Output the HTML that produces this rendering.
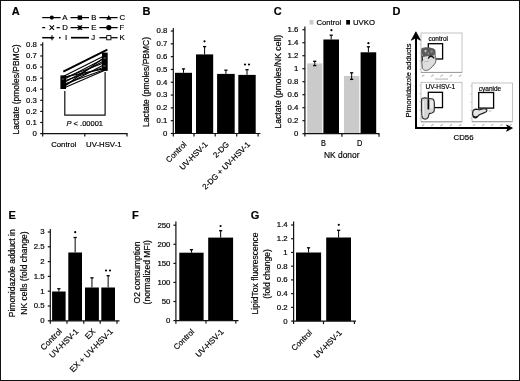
<!DOCTYPE html><html><head><meta charset="utf-8"><style>html,body{margin:0;padding:0;background:#fff;}svg{display:block;will-change:transform;font-family:"Liberation Sans",sans-serif;}text{stroke:#000;stroke-width:0.18px;}</style></head><body>
<svg width="520" height="381" viewBox="0 0 520 381">
<rect x="0" y="0" width="520" height="381" fill="#fff"/>
<text transform="translate(11.8,15.4)" font-size="11" font-weight="bold">A</text>
<text transform="translate(142.4,15.4)" font-size="11" font-weight="bold">B</text>
<text transform="translate(273.7,15.4)" font-size="11" font-weight="bold">C</text>
<text transform="translate(392.6,15.4)" font-size="11" font-weight="bold">D</text>
<text transform="translate(8.5,218.6)" font-size="11" font-weight="bold">E</text>
<text transform="translate(132.1,218.5)" font-size="11" font-weight="bold">F</text>
<text transform="translate(250.7,218.5)" font-size="11" font-weight="bold">G</text>
<line x1="42.7" y1="42.2" x2="42.7" y2="136.5" stroke="#111" stroke-width="1.2" />
<line x1="40.2" y1="133.6" x2="42.7" y2="133.6" stroke="#111" stroke-width="1.2" />
<text transform="translate(36.9,136)" font-size="7.8" text-anchor="end">0</text>
<line x1="40.2" y1="122.51" x2="42.7" y2="122.51" stroke="#111" stroke-width="1.2" />
<text transform="translate(36.9,124.91)" font-size="7.8" text-anchor="end">0.1</text>
<line x1="40.2" y1="111.42" x2="42.7" y2="111.42" stroke="#111" stroke-width="1.2" />
<text transform="translate(36.9,113.82)" font-size="7.8" text-anchor="end">0.2</text>
<line x1="40.2" y1="100.33" x2="42.7" y2="100.33" stroke="#111" stroke-width="1.2" />
<text transform="translate(36.9,102.73)" font-size="7.8" text-anchor="end">0.3</text>
<line x1="40.2" y1="89.24" x2="42.7" y2="89.24" stroke="#111" stroke-width="1.2" />
<text transform="translate(36.9,91.64)" font-size="7.8" text-anchor="end">0.4</text>
<line x1="40.2" y1="78.15" x2="42.7" y2="78.15" stroke="#111" stroke-width="1.2" />
<text transform="translate(36.9,80.55)" font-size="7.8" text-anchor="end">0.5</text>
<line x1="40.2" y1="67.06" x2="42.7" y2="67.06" stroke="#111" stroke-width="1.2" />
<text transform="translate(36.9,69.46)" font-size="7.8" text-anchor="end">0.6</text>
<line x1="40.2" y1="55.97" x2="42.7" y2="55.97" stroke="#111" stroke-width="1.2" />
<text transform="translate(36.9,58.37)" font-size="7.8" text-anchor="end">0.7</text>
<line x1="40.2" y1="44.88" x2="42.7" y2="44.88" stroke="#111" stroke-width="1.2" />
<text transform="translate(36.9,47.28)" font-size="7.8" text-anchor="end">0.8</text>
<line x1="42.7" y1="133.6" x2="127.6" y2="133.6" stroke="#111" stroke-width="1.2" />
<line x1="84.8" y1="133.6" x2="84.8" y2="136.6" stroke="#111" stroke-width="1.2" />
<line x1="127" y1="133.6" x2="127" y2="136.6" stroke="#111" stroke-width="1.2" />
<text transform="translate(63.7,146.8)" font-size="7.8" text-anchor="middle">Control</text>
<text transform="translate(103.8,146.8)" font-size="7.8" text-anchor="middle">UV-HSV-1</text>
<text transform="translate(18.8,89.4) scale(1.08,1) rotate(-90)" font-size="8.5" text-anchor="middle">Lactate (pmoles/PBMC)</text>
<line x1="42.2" y1="17.6" x2="60.6" y2="17.6" stroke="#000" stroke-width="1.25" />
<circle cx="51.8" cy="17.6" r="2.09" fill="#000"/>
<text transform="translate(62.3,19.6)" font-size="7.8">A</text>
<line x1="70.5" y1="17.6" x2="89" y2="17.6" stroke="#000" stroke-width="1.25" />
<rect x="77.7" y="15.4" width="4.4" height="4.4" fill="#000" />
<text transform="translate(91.2,19.6)" font-size="7.8">B</text>
<line x1="99.4" y1="17.6" x2="117.6" y2="17.6" stroke="#000" stroke-width="1.25" />
<path d="M108.8 15L111.4 19.8L106.2 19.8Z" fill="#000"/>
<text transform="translate(119.5,19.6)" font-size="7.8">C</text>
<line x1="42.2" y1="27.6" x2="45.2" y2="27.6" stroke="#000" stroke-width="1.25" />
<line x1="56.6" y1="27.6" x2="59.8" y2="27.6" stroke="#000" stroke-width="1.25" />
<path d="M49.6 25.4L54 29.8M54 25.4L49.6 29.8" stroke="#000" stroke-width="1.1" fill="none"/>
<text transform="translate(62.3,29.6)" font-size="7.8">D</text>
<line x1="70.5" y1="27.6" x2="89" y2="27.6" stroke="#000" stroke-width="1.25" />
<path d="M77.7 25.4L82.1 29.8M82.1 25.4L77.7 29.8M79.9 25.4L79.9 29.8" stroke="#000" stroke-width="1.2" fill="none"/>
<text transform="translate(91.2,29.6)" font-size="7.8">E</text>
<line x1="99.4" y1="27.6" x2="117.6" y2="27.6" stroke="#000" stroke-width="1.25" />
<circle cx="108.8" cy="27.6" r="2.64" fill="#000"/>
<text transform="translate(119.5,29.6)" font-size="7.8">F</text>
<line x1="42.2" y1="37.7" x2="53.8" y2="37.7" stroke="#000" stroke-width="1.5" />
<rect x="59" y="36.9" width="1.6" height="1.6" fill="#000" />
<path d="M52 35.2L52 40.2M49.8 37.7L54.2 37.7" stroke="#000" stroke-width="1.1" fill="none"/>
<text transform="translate(64.9,39.7)" font-size="7.8">I</text>
<line x1="71" y1="37.7" x2="89" y2="37.7" stroke="#000" stroke-width="1.7" />
<text transform="translate(91.2,39.7)" font-size="7.8">J</text>
<line x1="99.4" y1="37.7" x2="117.6" y2="37.7" stroke="#000" stroke-width="1.25" />
<rect x="106.7" y="35.6" width="4.2" height="4.2" fill="#fff" stroke="#000" stroke-width="0.9"/>
<text transform="translate(119.5,39.7)" font-size="7.8">K</text>
<line x1="63.3" y1="71.6" x2="107.4" y2="49.6" stroke="#000" stroke-width="1.9" />
<line x1="63.2" y1="76.5" x2="104.9" y2="55.5" stroke="#000" stroke-width="1.1" />
<line x1="63.2" y1="78.2" x2="104.9" y2="62.5" stroke="#000" stroke-width="1.1" />
<line x1="63.2" y1="79.8" x2="104.9" y2="58.2" stroke="#000" stroke-width="1.1" />
<line x1="63.2" y1="81.2" x2="104.9" y2="67" stroke="#000" stroke-width="1.1" />
<line x1="63.2" y1="83" x2="104.9" y2="60.2" stroke="#000" stroke-width="1.1" />
<line x1="63.2" y1="84.6" x2="104.9" y2="69.5" stroke="#000" stroke-width="1.1" />
<line x1="63.2" y1="86.2" x2="104.9" y2="64.2" stroke="#000" stroke-width="1.1" />
<line x1="63.2" y1="88.2" x2="104.9" y2="70.2" stroke="#000" stroke-width="1.1" />
<line x1="63.2" y1="87.2" x2="104.9" y2="57" stroke="#000" stroke-width="1.1" />
<line x1="63.2" y1="77.2" x2="104.9" y2="68.6" stroke="#000" stroke-width="1.1" />
<rect x="60.4" y="75.4" width="5.6" height="13.6" fill="#000" />
<rect x="102" y="52.6" width="5.7" height="18.3" fill="#000" />
<rect x="61.8" y="78.5" width="2" height="1.2" fill="#555"/>
<rect x="103.5" y="57.5" width="2.5" height="1.2" fill="#666"/>
<rect x="103.2" y="65.5" width="2.5" height="1" fill="#777"/>
<path d="M64.8 91 L64.8 115.2 L105.1 115.2 L105.1 72" fill="none" stroke="#111" stroke-width="1.2"/>
<text transform="translate(66.5,126.4)" font-size="7.5"><tspan font-style="italic">P</tspan> &lt; .00001</text>
<line x1="173.3" y1="27.9" x2="173.3" y2="136.5" stroke="#111" stroke-width="1.2" />
<line x1="170.8" y1="133.5" x2="173.3" y2="133.5" stroke="#111" stroke-width="1.2" />
<text transform="translate(167.4,135.9)" font-size="7.8" text-anchor="end">0</text>
<line x1="170.8" y1="120.69" x2="173.3" y2="120.69" stroke="#111" stroke-width="1.2" />
<text transform="translate(167.4,123.09)" font-size="7.8" text-anchor="end">0.1</text>
<line x1="170.8" y1="107.88" x2="173.3" y2="107.88" stroke="#111" stroke-width="1.2" />
<text transform="translate(167.4,110.28)" font-size="7.8" text-anchor="end">0.2</text>
<line x1="170.8" y1="95.07" x2="173.3" y2="95.07" stroke="#111" stroke-width="1.2" />
<text transform="translate(167.4,97.47)" font-size="7.8" text-anchor="end">0.3</text>
<line x1="170.8" y1="82.26" x2="173.3" y2="82.26" stroke="#111" stroke-width="1.2" />
<text transform="translate(167.4,84.66)" font-size="7.8" text-anchor="end">0.4</text>
<line x1="170.8" y1="69.45" x2="173.3" y2="69.45" stroke="#111" stroke-width="1.2" />
<text transform="translate(167.4,71.85)" font-size="7.8" text-anchor="end">0.5</text>
<line x1="170.8" y1="56.64" x2="173.3" y2="56.64" stroke="#111" stroke-width="1.2" />
<text transform="translate(167.4,59.04)" font-size="7.8" text-anchor="end">0.6</text>
<line x1="170.8" y1="43.83" x2="173.3" y2="43.83" stroke="#111" stroke-width="1.2" />
<text transform="translate(167.4,46.23)" font-size="7.8" text-anchor="end">0.7</text>
<line x1="170.8" y1="31.02" x2="173.3" y2="31.02" stroke="#111" stroke-width="1.2" />
<text transform="translate(167.4,33.42)" font-size="7.8" text-anchor="end">0.8</text>
<text transform="translate(148.5,82) scale(1.1,1) rotate(-90)" font-size="8.5" text-anchor="middle">Lactate (pmoles/PBMC)</text>
<rect x="175" y="72.8" width="17" height="60.7" fill="#000" />
<line x1="183.5" y1="68.9" x2="183.5" y2="72.8" stroke="#000" stroke-width="1" />
<line x1="181.9" y1="68.9" x2="185.1" y2="68.9" stroke="#000" stroke-width="1.3" />
<rect x="196" y="54.4" width="17.2" height="79.1" fill="#000" />
<line x1="204.6" y1="46.6" x2="204.6" y2="54.4" stroke="#000" stroke-width="1" />
<line x1="203" y1="46.6" x2="206.2" y2="46.6" stroke="#000" stroke-width="1.3" />
<rect x="217.1" y="73.9" width="17.6" height="59.6" fill="#000" />
<line x1="225.9" y1="70.2" x2="225.9" y2="73.9" stroke="#000" stroke-width="1" />
<line x1="224.3" y1="70.2" x2="227.5" y2="70.2" stroke="#000" stroke-width="1.3" />
<rect x="238.3" y="74.9" width="17.4" height="58.6" fill="#000" />
<line x1="247" y1="69.7" x2="247" y2="74.9" stroke="#000" stroke-width="1" />
<line x1="245.4" y1="69.7" x2="248.6" y2="69.7" stroke="#000" stroke-width="1.3" />
<line x1="173.3" y1="133.5" x2="260.4" y2="133.5" stroke="#111" stroke-width="1.2" />
<line x1="194" y1="133.5" x2="194" y2="136.5" stroke="#111" stroke-width="1.2" />
<line x1="215.2" y1="133.5" x2="215.2" y2="136.5" stroke="#111" stroke-width="1.2" />
<line x1="236.7" y1="133.5" x2="236.7" y2="136.5" stroke="#111" stroke-width="1.2" />
<line x1="258.1" y1="133.5" x2="258.1" y2="136.5" stroke="#111" stroke-width="1.2" />
<circle cx="204.5" cy="41.3" r="1.1" fill="#000"/>
<circle cx="245" cy="64.5" r="1.1" fill="#000"/>
<circle cx="249" cy="64.5" r="1.1" fill="#000"/>
<text transform="translate(187.1,145) rotate(-45)" font-size="7.9" text-anchor="end">Control</text>
<text transform="translate(208.2,145) rotate(-45)" font-size="7.9" text-anchor="end">UV-HSV-1</text>
<text transform="translate(229.5,145) rotate(-45)" font-size="7.9" text-anchor="end">2-DG</text>
<text transform="translate(250.6,145) rotate(-45)" font-size="7.9" text-anchor="end">2-DG + UV-HSV-1</text>
<line x1="304.9" y1="26.5" x2="304.9" y2="136.5" stroke="#111" stroke-width="1.2" />
<line x1="302.4" y1="133.7" x2="304.9" y2="133.7" stroke="#111" stroke-width="1.2" />
<text transform="translate(298.4,136.1)" font-size="7.8" text-anchor="end">0</text>
<line x1="302.4" y1="120.7" x2="304.9" y2="120.7" stroke="#111" stroke-width="1.2" />
<text transform="translate(298.4,123.1)" font-size="7.8" text-anchor="end">0.2</text>
<line x1="302.4" y1="107.7" x2="304.9" y2="107.7" stroke="#111" stroke-width="1.2" />
<text transform="translate(298.4,110.1)" font-size="7.8" text-anchor="end">0.4</text>
<line x1="302.4" y1="94.7" x2="304.9" y2="94.7" stroke="#111" stroke-width="1.2" />
<text transform="translate(298.4,97.1)" font-size="7.8" text-anchor="end">0.6</text>
<line x1="302.4" y1="81.7" x2="304.9" y2="81.7" stroke="#111" stroke-width="1.2" />
<text transform="translate(298.4,84.1)" font-size="7.8" text-anchor="end">0.8</text>
<line x1="302.4" y1="68.7" x2="304.9" y2="68.7" stroke="#111" stroke-width="1.2" />
<text transform="translate(298.4,71.1)" font-size="7.8" text-anchor="end">1</text>
<line x1="302.4" y1="55.7" x2="304.9" y2="55.7" stroke="#111" stroke-width="1.2" />
<text transform="translate(298.4,58.1)" font-size="7.8" text-anchor="end">1.2</text>
<line x1="302.4" y1="42.7" x2="304.9" y2="42.7" stroke="#111" stroke-width="1.2" />
<text transform="translate(298.4,45.1)" font-size="7.8" text-anchor="end">1.4</text>
<line x1="302.4" y1="29.7" x2="304.9" y2="29.7" stroke="#111" stroke-width="1.2" />
<text transform="translate(298.4,32.1)" font-size="7.8" text-anchor="end">1.6</text>
<text transform="translate(281.4,81.7) scale(1.1,1) rotate(-90)" font-size="8.6" text-anchor="middle">Lactate (pmoles/NK cell)</text>
<rect x="309.5" y="20" width="4" height="4.6" fill="#cacaca" />
<text transform="translate(316.5,25.1) scale(0.95,1)" font-size="8.1">Control</text>
<rect x="346.2" y="20" width="3.8" height="4.6" fill="#000" />
<text transform="translate(353,25.1) scale(0.96,1)" font-size="8.1">UVKO</text>
<rect x="307.2" y="63.4" width="15.1" height="70.3" fill="#cacaca" />
<rect x="323.4" y="39.5" width="15.6" height="94.2" fill="#000" />
<rect x="344" y="75.9" width="15.3" height="57.8" fill="#cacaca" />
<rect x="360.6" y="52.3" width="15.6" height="81.4" fill="#000" />
<line x1="314.75" y1="61.3" x2="314.75" y2="63.4" stroke="#000" stroke-width="1" />
<line x1="313.15" y1="61.3" x2="316.35" y2="61.3" stroke="#000" stroke-width="1.3" />
<line x1="314.75" y1="63.4" x2="314.75" y2="65.6" stroke="#000" stroke-width="1" />
<line x1="313.15" y1="65.6" x2="316.35" y2="65.6" stroke="#000" stroke-width="1.3" />
<line x1="331.2" y1="35.2" x2="331.2" y2="39.5" stroke="#000" stroke-width="1" />
<line x1="329.6" y1="35.2" x2="332.8" y2="35.2" stroke="#000" stroke-width="1.3" />
<line x1="351.65" y1="72.8" x2="351.65" y2="75.9" stroke="#000" stroke-width="1" />
<line x1="350.05" y1="72.8" x2="353.25" y2="72.8" stroke="#000" stroke-width="1.3" />
<line x1="351.65" y1="75.9" x2="351.65" y2="79.4" stroke="#000" stroke-width="1" />
<line x1="350.05" y1="79.4" x2="353.25" y2="79.4" stroke="#000" stroke-width="1.3" />
<line x1="368.4" y1="46.8" x2="368.4" y2="52.3" stroke="#000" stroke-width="1" />
<line x1="366.8" y1="46.8" x2="370" y2="46.8" stroke="#000" stroke-width="1.3" />
<circle cx="331.4" cy="30.2" r="1.1" fill="#000"/>
<circle cx="368.4" cy="43.2" r="1.1" fill="#000"/>
<line x1="304.9" y1="133.7" x2="379.5" y2="133.7" stroke="#111" stroke-width="1.2" />
<line x1="341.9" y1="133.7" x2="341.9" y2="136.7" stroke="#111" stroke-width="1.2" />
<line x1="379" y1="133.7" x2="379" y2="136.7" stroke="#111" stroke-width="1.2" />
<text transform="translate(323.4,146.2) scale(0.9,1)" font-size="8.2" text-anchor="middle">B</text>
<text transform="translate(359.7,146.2) scale(0.9,1)" font-size="8.2" text-anchor="middle">D</text>
<text transform="translate(341.7,158.1) scale(0.85,1)" font-size="9.9" text-anchor="middle">NK donor</text>
<text transform="translate(410.5,80.5) rotate(-90)" font-size="7.55" text-anchor="middle">Pimonidazole adducts</text>
<rect x="421" y="33" width="41" height="39.4" fill="none" stroke="#b4b4b4" stroke-width="0.8"/>
<line x1="421" y1="72.4" x2="462" y2="72.4" stroke="#9a9a9a" stroke-width="1" />
<path d="M421.9 76.6 L424.3 74.8" stroke="#b8b8b8" stroke-width="1.1"/>
<path d="M431.15 76.6 L433.55 74.8" stroke="#b8b8b8" stroke-width="1.1"/>
<path d="M440.4 76.6 L442.8 74.8" stroke="#b8b8b8" stroke-width="1.1"/>
<path d="M449.65 76.6 L452.05 74.8" stroke="#b8b8b8" stroke-width="1.1"/>
<path d="M458.9 76.6 L461.3 74.8" stroke="#b8b8b8" stroke-width="1.1"/>
<line x1="419.4" y1="69.4" x2="421" y2="69.4" stroke="#c4c4c4" stroke-width="0.9" />
<line x1="419.4" y1="61.05" x2="421" y2="61.05" stroke="#c4c4c4" stroke-width="0.9" />
<line x1="419.4" y1="52.7" x2="421" y2="52.7" stroke="#c4c4c4" stroke-width="0.9" />
<line x1="419.4" y1="44.35" x2="421" y2="44.35" stroke="#c4c4c4" stroke-width="0.9" />
<line x1="419.4" y1="36" x2="421" y2="36" stroke="#c4c4c4" stroke-width="0.9" />
<rect x="435" y="78.4" width="13" height="1.4" fill="#c8c8c8"/>
<rect x="421" y="82.3" width="41" height="39.5" fill="none" stroke="#b4b4b4" stroke-width="0.8"/>
<line x1="421" y1="121.8" x2="462" y2="121.8" stroke="#9a9a9a" stroke-width="1" />
<path d="M421.9 126 L424.3 124.2" stroke="#b8b8b8" stroke-width="1.1"/>
<path d="M431.15 126 L433.55 124.2" stroke="#b8b8b8" stroke-width="1.1"/>
<path d="M440.4 126 L442.8 124.2" stroke="#b8b8b8" stroke-width="1.1"/>
<path d="M449.65 126 L452.05 124.2" stroke="#b8b8b8" stroke-width="1.1"/>
<path d="M458.9 126 L461.3 124.2" stroke="#b8b8b8" stroke-width="1.1"/>
<line x1="419.4" y1="118.8" x2="421" y2="118.8" stroke="#c4c4c4" stroke-width="0.9" />
<line x1="419.4" y1="110.42" x2="421" y2="110.42" stroke="#c4c4c4" stroke-width="0.9" />
<line x1="419.4" y1="102.05" x2="421" y2="102.05" stroke="#c4c4c4" stroke-width="0.9" />
<line x1="419.4" y1="93.67" x2="421" y2="93.67" stroke="#c4c4c4" stroke-width="0.9" />
<line x1="419.4" y1="85.3" x2="421" y2="85.3" stroke="#c4c4c4" stroke-width="0.9" />
<rect x="435" y="127.8" width="13" height="1.4" fill="#c8c8c8"/>
<rect x="472" y="83" width="40.4" height="38.7" fill="none" stroke="#b4b4b4" stroke-width="0.8"/>
<line x1="472" y1="121.7" x2="512.4" y2="121.7" stroke="#9a9a9a" stroke-width="1" />
<path d="M472.9 125.9 L475.3 124.1" stroke="#b8b8b8" stroke-width="1.1"/>
<path d="M482 125.9 L484.4 124.1" stroke="#b8b8b8" stroke-width="1.1"/>
<path d="M491.1 125.9 L493.5 124.1" stroke="#b8b8b8" stroke-width="1.1"/>
<path d="M500.2 125.9 L502.6 124.1" stroke="#b8b8b8" stroke-width="1.1"/>
<path d="M509.3 125.9 L511.7 124.1" stroke="#b8b8b8" stroke-width="1.1"/>
<line x1="470.4" y1="118.7" x2="472" y2="118.7" stroke="#c4c4c4" stroke-width="0.9" />
<line x1="470.4" y1="110.53" x2="472" y2="110.53" stroke="#c4c4c4" stroke-width="0.9" />
<line x1="470.4" y1="102.35" x2="472" y2="102.35" stroke="#c4c4c4" stroke-width="0.9" />
<line x1="470.4" y1="94.17" x2="472" y2="94.17" stroke="#c4c4c4" stroke-width="0.9" />
<line x1="470.4" y1="86" x2="472" y2="86" stroke="#c4c4c4" stroke-width="0.9" />
<rect x="485.7" y="127.7" width="13" height="1.4" fill="#c8c8c8"/>
<rect x="428.3" y="43.7" width="14.3" height="15.3" fill="none" stroke="#000" stroke-width="1.3"/>
<rect x="428.3" y="92.3" width="14.2" height="15.3" fill="none" stroke="#000" stroke-width="1.3"/>
<rect x="478.7" y="92.5" width="14.9" height="15.6" fill="none" stroke="#000" stroke-width="1.3"/>
<text transform="translate(428.5,40.9)" font-size="6.5">control</text>
<text transform="translate(425.5,89.4)" font-size="6.5">UV-HSV-1</text>
<text transform="translate(478.8,90.6)" font-size="6.5">cyanide</text>
<path d="M421.8 48.6 C421.5 55 421.6 63 422.4 68.3 C423.4 70.8 427 71 429.5 69.2 C431.5 67.3 433.8 65.6 435.2 63.2 C436.2 61 436 58 435.2 56 L434.9 50.5 C433 47.6 425 47.2 421.8 48.6 Z" fill="#dedede" stroke="#505050" stroke-width="0.9"/>
<path d="M421.7 49.2 C423 47.4 433 47.2 434.8 49.5 C435.6 51.5 435.2 54.6 433.6 55.6 C431 56.6 427 55.6 424.5 56.8 C422.6 57.8 421.8 54 421.7 49.2 Z" fill="#5a5a5a"/>
<ellipse cx="425.5" cy="51.1" rx="1.1" ry="1.4" fill="#c4c4c4"/>
<ellipse cx="431.6" cy="51.6" rx="1.2" ry="1.5" fill="#8c8c8c"/>
<ellipse cx="428.4" cy="53.6" rx="0.8" ry="1.0" fill="#999"/>
<path d="M422.3 56 L422.6 61" stroke="#333" stroke-width="1.0"/>
<path d="M428.3 58.6 C429 55.6 432.6 55.4 434.2 58.4" fill="none" stroke="#111" stroke-width="1.3"/>
<path d="M424 62 C426 61 428 62 429.5 60.5" fill="none" stroke="#aaa" stroke-width="0.7"/>
<path d="M421.6 99.5 C421.6 98.3 423 97.8 425 97.9 L427.5 98.3 C429 98.6 431 98.3 432.8 99 C434.2 99.8 434.5 102 434.4 105 L434.3 110 C434.2 112.3 432.5 113.3 430 113.4 L429.2 113.6 C428.7 115.5 428.6 117.5 427.1 118.5 C425.5 119.5 423 119.3 422.2 117.5 C421.6 113 421.5 104 421.6 99.5 Z" fill="#d6d6d6" stroke="#2a2a2a" stroke-width="1.1"/>
<rect x="429.9" y="100.6" width="3.1" height="7.6" fill="#ececec"/>
<path d="M428.4 99.2 L428.4 109.4" stroke="#000" stroke-width="1.7"/>
<path d="M423.3 101 L423.3 116" stroke="#eee" stroke-width="1.2"/>
<path d="M472.7 112.2 C472.8 110.3 474.5 109.2 476.5 109.1 C477.8 109.1 478.4 110 479.5 109.8 C481.5 109.2 484 108.4 485.8 108.9 C487.3 109.4 487.2 111.2 485.8 112.1 C484 113.2 481 113.6 479 115 C477.6 116.2 477.2 117.6 475.6 117.9 C474 118 472.9 116.6 472.7 114.5 Z" fill="#e4e4e4" stroke="#1a1a1a" stroke-width="1.2"/>
<path d="M473.6 116 C474.5 117.4 476 117.6 477 116.5" fill="none" stroke="#000" stroke-width="1.3"/>
<ellipse cx="490" cy="111" rx="1.6" ry="1.0" fill="#d8d8d8"/>
<line x1="416" y1="37.5" x2="416" y2="129" stroke="#000" stroke-width="2" />
<line x1="415" y1="128.1" x2="508" y2="128.1" stroke="#000" stroke-width="2" />
<path d="M415.9 31.8 L420.4 40.2 L415.9 37.8 L411.4 40.2 Z" fill="#000" stroke="#000" stroke-width="0.8" stroke-linejoin="round"/>
<path d="M512.4 128.1 L506.6 131.2 L508.2 128.1 L506.6 125.0 Z" fill="#000" stroke="#000" stroke-width="0.8" stroke-linejoin="round"/>
<text transform="translate(453.6,139.8) scale(1.04,1)" font-size="7.5">CD56</text>
<line x1="50.3" y1="228.9" x2="50.3" y2="323.8" stroke="#111" stroke-width="1.2" />
<line x1="47.8" y1="320.8" x2="50.3" y2="320.8" stroke="#111" stroke-width="1.2" />
<text transform="translate(44.6,323.2)" font-size="7.8" text-anchor="end">0</text>
<line x1="47.8" y1="306" x2="50.3" y2="306" stroke="#111" stroke-width="1.2" />
<text transform="translate(44.6,308.4)" font-size="7.8" text-anchor="end">0.5</text>
<line x1="47.8" y1="291.2" x2="50.3" y2="291.2" stroke="#111" stroke-width="1.2" />
<text transform="translate(44.6,293.6)" font-size="7.8" text-anchor="end">1</text>
<line x1="47.8" y1="276.4" x2="50.3" y2="276.4" stroke="#111" stroke-width="1.2" />
<text transform="translate(44.6,278.8)" font-size="7.8" text-anchor="end">1.5</text>
<line x1="47.8" y1="261.6" x2="50.3" y2="261.6" stroke="#111" stroke-width="1.2" />
<text transform="translate(44.6,264)" font-size="7.8" text-anchor="end">2</text>
<line x1="47.8" y1="246.8" x2="50.3" y2="246.8" stroke="#111" stroke-width="1.2" />
<text transform="translate(44.6,249.2)" font-size="7.8" text-anchor="end">2.5</text>
<line x1="47.8" y1="232" x2="50.3" y2="232" stroke="#111" stroke-width="1.2" />
<text transform="translate(44.6,234.4)" font-size="7.8" text-anchor="end">3</text>
<text transform="translate(14.7,273.3) rotate(-90)" font-size="8.5" text-anchor="middle">Pimonidazole adduct in</text>
<text transform="translate(26.5,273.1) rotate(-90)" font-size="8.5" text-anchor="middle">NK cells (fold change)</text>
<rect x="52.1" y="291.5" width="13.5" height="29.3" fill="#000" />
<line x1="58.85" y1="288.7" x2="58.85" y2="291.5" stroke="#000" stroke-width="1" />
<line x1="57.25" y1="288.7" x2="60.45" y2="288.7" stroke="#000" stroke-width="1.3" />
<rect x="68.3" y="252.5" width="13.7" height="68.3" fill="#000" />
<line x1="75.15" y1="237.5" x2="75.15" y2="252.5" stroke="#000" stroke-width="1" />
<line x1="73.55" y1="237.5" x2="76.75" y2="237.5" stroke="#000" stroke-width="1.3" />
<rect x="85" y="287.5" width="13.9" height="33.3" fill="#000" />
<line x1="91.95" y1="277.8" x2="91.95" y2="287.5" stroke="#000" stroke-width="1" />
<line x1="90.35" y1="277.8" x2="93.55" y2="277.8" stroke="#000" stroke-width="1.3" />
<rect x="101.3" y="287.5" width="13.7" height="33.3" fill="#000" />
<line x1="108.15" y1="275.7" x2="108.15" y2="287.5" stroke="#000" stroke-width="1" />
<line x1="106.55" y1="275.7" x2="109.75" y2="275.7" stroke="#000" stroke-width="1.3" />
<line x1="50.3" y1="320.8" x2="119.5" y2="320.8" stroke="#111" stroke-width="1.2" />
<line x1="67" y1="320.8" x2="67" y2="323.8" stroke="#111" stroke-width="1.2" />
<line x1="83.8" y1="320.8" x2="83.8" y2="323.8" stroke="#111" stroke-width="1.2" />
<line x1="100.2" y1="320.8" x2="100.2" y2="323.8" stroke="#111" stroke-width="1.2" />
<line x1="117" y1="320.8" x2="117" y2="323.8" stroke="#111" stroke-width="1.2" />
<circle cx="75.2" cy="232.2" r="1.1" fill="#000"/>
<circle cx="106" cy="270.5" r="1.1" fill="#000"/>
<circle cx="110" cy="270.5" r="1.1" fill="#000"/>
<text transform="translate(62.4,332) rotate(-45)" font-size="8.2" text-anchor="end">Control</text>
<text transform="translate(79,332) rotate(-45)" font-size="8.2" text-anchor="end">UV-HSV-1</text>
<text transform="translate(95.9,332) rotate(-45)" font-size="8.2" text-anchor="end">EX</text>
<text transform="translate(113.6,332) rotate(-45)" font-size="8.2" text-anchor="end">EX + UV-HSV-1</text>
<line x1="175.9" y1="221.6" x2="175.9" y2="323.8" stroke="#111" stroke-width="1.2" />
<line x1="173.4" y1="320.6" x2="175.9" y2="320.6" stroke="#111" stroke-width="1.2" />
<text transform="translate(170.4,323)" font-size="7.8" text-anchor="end">0</text>
<line x1="173.4" y1="301.52" x2="175.9" y2="301.52" stroke="#111" stroke-width="1.2" />
<text transform="translate(170.4,303.92)" font-size="7.8" text-anchor="end">50</text>
<line x1="173.4" y1="282.44" x2="175.9" y2="282.44" stroke="#111" stroke-width="1.2" />
<text transform="translate(170.4,284.84)" font-size="7.8" text-anchor="end">100</text>
<line x1="173.4" y1="263.36" x2="175.9" y2="263.36" stroke="#111" stroke-width="1.2" />
<text transform="translate(170.4,265.76)" font-size="7.8" text-anchor="end">150</text>
<line x1="173.4" y1="244.28" x2="175.9" y2="244.28" stroke="#111" stroke-width="1.2" />
<text transform="translate(170.4,246.68)" font-size="7.8" text-anchor="end">200</text>
<line x1="173.4" y1="225.2" x2="175.9" y2="225.2" stroke="#111" stroke-width="1.2" />
<text transform="translate(170.4,227.6)" font-size="7.8" text-anchor="end">250</text>
<text transform="translate(139.8,272.5) rotate(-90)" font-size="8.5" text-anchor="middle">O2 consumption</text>
<text transform="translate(150.3,272.3) rotate(-90)" font-size="8.5" text-anchor="middle">(normalized MFI)</text>
<rect x="179.3" y="252.7" width="24.3" height="67.9" fill="#000" />
<line x1="191.45" y1="249.7" x2="191.45" y2="252.7" stroke="#000" stroke-width="1" />
<line x1="189.85" y1="249.7" x2="193.05" y2="249.7" stroke="#000" stroke-width="1.3" />
<rect x="208.2" y="237.6" width="24.9" height="83" fill="#000" />
<line x1="220.65" y1="230.7" x2="220.65" y2="237.6" stroke="#000" stroke-width="1" />
<line x1="219.05" y1="230.7" x2="222.25" y2="230.7" stroke="#000" stroke-width="1.3" />
<line x1="175.9" y1="320.6" x2="238.5" y2="320.6" stroke="#111" stroke-width="1.2" />
<line x1="206" y1="320.6" x2="206" y2="323.6" stroke="#111" stroke-width="1.2" />
<line x1="235.8" y1="320.6" x2="235.8" y2="323.6" stroke="#111" stroke-width="1.2" />
<circle cx="220.6" cy="226" r="1.1" fill="#000"/>
<text transform="translate(194.8,332.3) rotate(-45)" font-size="7.9" text-anchor="end">Control</text>
<text transform="translate(224.2,332.3) rotate(-45)" font-size="7.9" text-anchor="end">UV-HSV-1</text>
<line x1="293.6" y1="221.6" x2="293.6" y2="324" stroke="#111" stroke-width="1.2" />
<line x1="291.1" y1="321.1" x2="293.6" y2="321.1" stroke="#111" stroke-width="1.2" />
<text transform="translate(287.7,323.5)" font-size="7.8" text-anchor="end">0</text>
<line x1="291.1" y1="307.37" x2="293.6" y2="307.37" stroke="#111" stroke-width="1.2" />
<text transform="translate(287.7,309.77)" font-size="7.8" text-anchor="end">0.2</text>
<line x1="291.1" y1="293.64" x2="293.6" y2="293.64" stroke="#111" stroke-width="1.2" />
<text transform="translate(287.7,296.04)" font-size="7.8" text-anchor="end">0.4</text>
<line x1="291.1" y1="279.91" x2="293.6" y2="279.91" stroke="#111" stroke-width="1.2" />
<text transform="translate(287.7,282.31)" font-size="7.8" text-anchor="end">0.6</text>
<line x1="291.1" y1="266.18" x2="293.6" y2="266.18" stroke="#111" stroke-width="1.2" />
<text transform="translate(287.7,268.58)" font-size="7.8" text-anchor="end">0.8</text>
<line x1="291.1" y1="252.45" x2="293.6" y2="252.45" stroke="#111" stroke-width="1.2" />
<text transform="translate(287.7,254.85)" font-size="7.8" text-anchor="end">1</text>
<line x1="291.1" y1="238.72" x2="293.6" y2="238.72" stroke="#111" stroke-width="1.2" />
<text transform="translate(287.7,241.12)" font-size="7.8" text-anchor="end">1.2</text>
<line x1="291.1" y1="224.99" x2="293.6" y2="224.99" stroke="#111" stroke-width="1.2" />
<text transform="translate(287.7,227.39)" font-size="7.8" text-anchor="end">1.4</text>
<text transform="translate(258,273.5) rotate(-90)" font-size="8.5" text-anchor="middle">LipidTox fluorescence</text>
<text transform="translate(269.5,274) rotate(-90)" font-size="8.5" text-anchor="middle">(fold change)</text>
<rect x="296" y="252.5" width="25.1" height="68.6" fill="#000" />
<line x1="308.55" y1="247.8" x2="308.55" y2="252.5" stroke="#000" stroke-width="1" />
<line x1="306.95" y1="247.8" x2="310.15" y2="247.8" stroke="#000" stroke-width="1.3" />
<rect x="326.2" y="237.5" width="24.8" height="83.6" fill="#000" />
<line x1="338.6" y1="230.3" x2="338.6" y2="237.5" stroke="#000" stroke-width="1" />
<line x1="337" y1="230.3" x2="340.2" y2="230.3" stroke="#000" stroke-width="1.3" />
<line x1="293.6" y1="321.1" x2="356" y2="321.1" stroke="#111" stroke-width="1.2" />
<line x1="323.5" y1="321.1" x2="323.5" y2="324.1" stroke="#111" stroke-width="1.2" />
<line x1="354.4" y1="321.1" x2="354.4" y2="324.1" stroke="#111" stroke-width="1.2" />
<circle cx="338.8" cy="224.8" r="1.1" fill="#000"/>
<text transform="translate(312.6,333.3) rotate(-45)" font-size="7.9" text-anchor="end">Control</text>
<text transform="translate(342.4,333.3) rotate(-45)" font-size="7.9" text-anchor="end">UV-HSV-1</text>
<rect x="0.5" y="0.5" width="519" height="380" fill="none" stroke="#111" stroke-width="1"/>
</svg></body></html>
